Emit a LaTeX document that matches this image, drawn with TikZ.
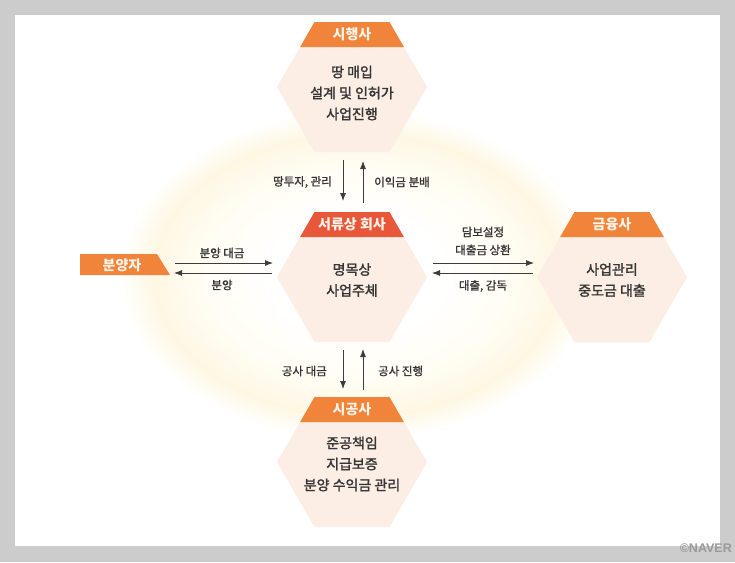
\documentclass[tikz,border=0pt]{standalone}
\usepackage{fontspec}
\newfontfamily\kr{Noto Sans CJK KR}
\newfontfamily\krb{Noto Sans CJK KR}[FakeBold=1.8]
\newfontfamily\krl{Noto Sans CJK KR}[FakeBold=1.3]
\newfontfamily\wm{Liberation Sans}
\usetikzlibrary{arrows.meta}
\definecolor{bggray}{HTML}{CCCCCC}
\definecolor{hexfill}{HTML}{FCEEE4}
\definecolor{heador}{HTML}{F0843A}
\definecolor{headred}{HTML}{E9573A}
\definecolor{headtxt}{HTML}{FFF4EA}
\definecolor{bodytxt}{HTML}{363636}
\definecolor{arrgray}{HTML}{3C3C3C}
\definecolor{glowA}{HTML}{FFFDF4}
\definecolor{glowB}{HTML}{FEF7E3}
\definecolor{wmgray}{HTML}{9A9A9A}
\pgfdeclareradialshading{glow}{\pgfpoint{0bp}{0bp}}{color(0bp)=(white); color(8bp)=(white); color(16bp)=(glowA); color(21.5bp)=(glowB); color(25bp)=(white); color(50bp)=(white)}
\tikzset{
  hexbody/.style={fill=hexfill},
  headtext/.style={text=headtxt, font=\kr\bfseries\fontsize{14}{16}\selectfont, inner sep=0pt},
  bodytext/.style={text=bodytxt, align=center, font=\krb\fontsize{14}{21}\selectfont, inner sep=0pt},
  labeltext/.style={text=bodytxt, align=center, font=\krl\fontsize{11.5}{18}\selectfont, inner sep=0pt},
  arr/.style={draw=arrgray, line width=0.8pt, -{Latex[length=8pt,width=6pt]}}
}
\newcommand\hexunit[5]{%
  \fill[hexbody] (#2-75,#3) -- (#2-37.5,#3-65) -- (#2+37.5,#3-65) -- (#2+75,#3) -- (#2+37.5,#3+65) -- (#2-37.5,#3+65) -- cycle;
  \fill[#4] (#2-37.5,#3-65) -- (#2+37.5,#3-65) -- (#2+51.9,#3-40) -- (#2-51.9,#3-40) -- cycle;
  \node[headtext] (#1) at (#2,#3-52.5) {#5};
}
\begin{document}
\begin{tikzpicture}[x=1pt,y=-1pt]
\fill[bggray] (0,0) rectangle (735,562);
\useasboundingbox (0,0) rectangle (735,562);
\fill[white] (15,15) rectangle (720,546);
\shade[shading=glow] (357,275) ellipse (237 and 165);

% units
\hexunit{shh}{352}{87}{heador}{시행사}
\hexunit{seo}{352}{277}{headred}{서류상 회사}
\hexunit{geum}{612}{277}{heador}{금융사}
\hexunit{sig}{352}{462}{heador}{시공사}

\node[bodytext] (shhb) at (352,93) {땅 매입\\설계 및 인허가\\사업진행};
\node[bodytext] (seob) at (352,280) {명목상\\사업주체};
\node[bodytext] (geumb) at (612,280) {사업관리\\중도금 대출};
\node[bodytext] (sigb) at (352,464) {준공책임\\지급보증\\분양 수익금 관리};

% buyer
\fill[heador] (80,254) -- (157,254) -- (170,275) -- (80,275) -- cycle;
\node[headtext] (bun) at (122,265) {분양자};

% arrow end points
\coordinate (t1a) at (343,160); \coordinate (t1b) at (343,201);
\coordinate (t2a) at (363,203); \coordinate (t2b) at (363,161);
\coordinate (l1a) at (175,263); \coordinate (l1b) at (273,263);
\coordinate (l2a) at (272,273); \coordinate (l2b) at (174,273);
\coordinate (r1a) at (433,263); \coordinate (r1b) at (534,263);
\coordinate (r2a) at (533,273); \coordinate (r2b) at (432,273);
\coordinate (b1a) at (343,350); \coordinate (b1b) at (343,389);
\coordinate (b2a) at (363,390); \coordinate (b2b) at (363,349);

\draw[arr] (t1a) -- (t1b);
\draw[arr] (t2a) -- (t2b);
\draw[arr] (l1a) -- (l1b);
\draw[arr] (l2a) -- (l2b);
\draw[arr] (r1a) -- (r1b);
\draw[arr] (r2a) -- (r2b);
\draw[arr] (b1a) -- (b1b);
\draw[arr] (b2a) -- (b2b);

% labels
\node[labeltext, anchor=east] (lt1) at (332,182) {땅투자, 관리};
\node[labeltext, anchor=west] (lt2) at (374,182) {이익금 분배};
\node[labeltext] (ll1) at (222,253) {분양 대금};
\node[labeltext] (ll2) at (222,285) {분양};
\node[labeltext] (lr1) at (483,241) {담보설정\\대출금 상환};
\node[labeltext] (lr2) at (483,286) {대출, 감독};
\node[labeltext, anchor=east] (lb1) at (327,371) {공사 대금};
\node[labeltext, anchor=west] (lb2) at (378,371) {공사 진행};

% watermark
\node[text=wmgray, font=\wm\bfseries\fontsize{12.5}{12.5}\selectfont, anchor=east, inner sep=0pt] (wm) at (732,548) {©NAVER};
\end{tikzpicture}
\end{document}
